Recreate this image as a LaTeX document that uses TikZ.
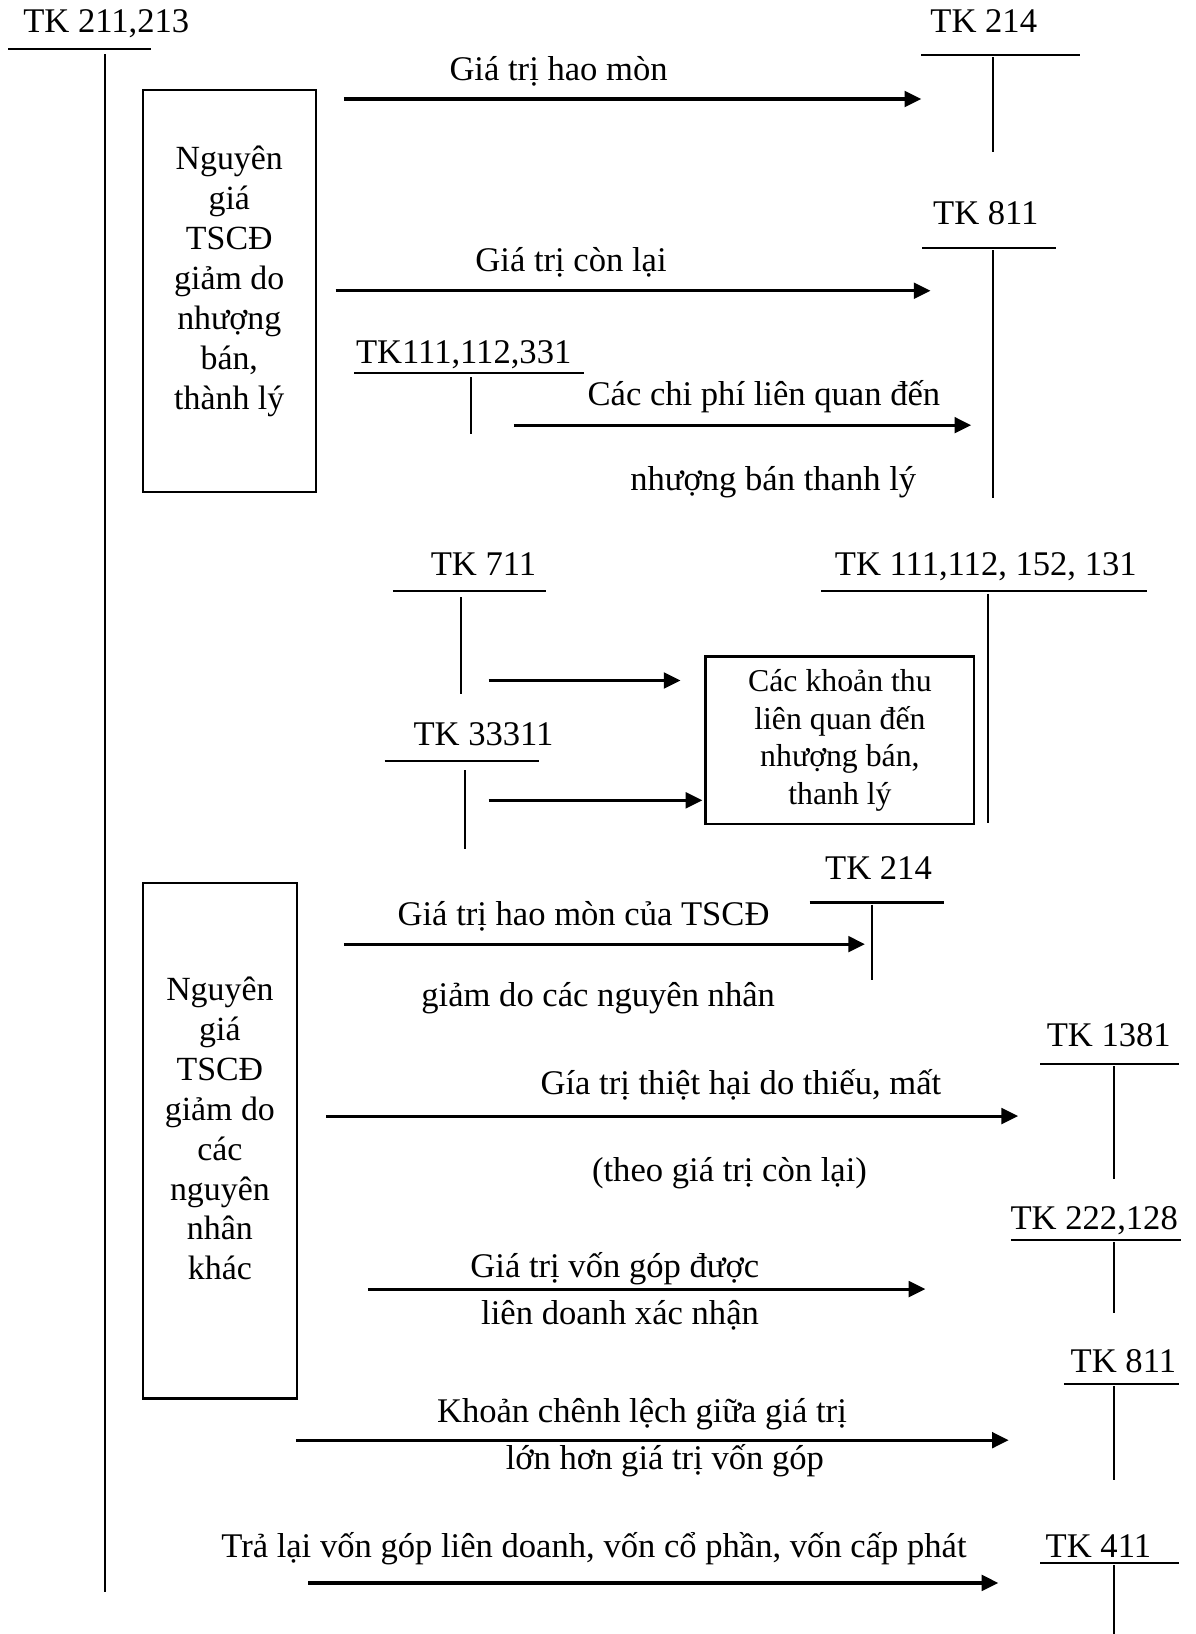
\documentclass[tikz,border=0pt]{standalone}
\usepackage{fontspec}
\setmainfont{Liberation Serif}
\usetikzlibrary{arrows.meta}
\begin{document}
\begin{tikzpicture}[x=1pt,y=-1pt,
  tline/.style={line width=2pt},
  flow/.style={line width=3pt,-{Triangle[length=16pt,width=15pt]}},
  txt/.style={anchor=base,inner sep=0pt,font=\fontsize{33.2}{38}\selectfont},
  boxtxt/.style={inner sep=0pt,align=center,font=\fontsize{32.5}{38.3}\selectfont},
  frame/.style={draw,line width=2pt,rectangle,inner sep=0pt}]
\useasboundingbox (0,0) rectangle (1147,1568);

% ---------- TK 211,213 (main account) ----------
\node[txt] (a211) at (102,31) {TK 211,213};
\draw[tline] (8,47) -- (145,47);
\draw[tline] (101,52) -- (101,1528);

% ---------- disposal by sale / liquidation ----------
\node[frame,minimum width=166pt,minimum height=386pt] (box1) at (220,279) {};
\node[boxtxt] (box1t) at (220,270) {Nguyên\\giá\\TSCĐ\\giảm do\\nhượng\\bán,\\thành lý};

% TK 214
\node[txt] (a214) at (944,31) {TK 214};
\draw[tline] (884,53) -- (1036,53);
\draw[tline] (953,55) -- (953,146);
\coordinate (f1s) at (330,95);
\coordinate (f1e) at (884,95);
\draw[flow] (f1s) -- (f1e);
\node[txt] (l1) at (536,77) {Giá trị hao mòn};

% TK 811
\node[txt] (a811) at (946,215) {TK 811};
\draw[tline] (885,238) -- (1013,238);
\draw[tline] (953,240) -- (953,478);
\coordinate (f2s) at (322,279);
\coordinate (f2e) at (893,279);
\draw[flow] (f2s) -- (f2e);
\node[txt] (l2) at (548,261) {Giá trị còn lại};

% TK 111,112,331
\node[txt] (a111) at (445,349) {TK111,112,331};
\draw[tline] (340,358) -- (560,358);
\draw[tline] (452,362) -- (452,416);
\coordinate (f3s) at (493,408);
\coordinate (f3e) at (932,408);
\draw[flow] (f3s) -- (f3e);
\node[txt] (l3a) at (733,389) {Các chi phí liên quan đến};
\node[txt] (l3b) at (742,471) {nhượng bán thanh lý};

% ---------- receipts from the disposal ----------
\node[txt] (a711) at (464,552) {TK 711};
\draw[tline] (377,567) -- (524,567);
\draw[tline] (442,573) -- (442,666);

\node[txt] (a3331) at (464,715) {TK 33311};
\draw[tline] (369,730) -- (517,730);
\draw[tline] (446,739) -- (446,815);

\node[txt] (a1111) at (946,552) {TK 111,112, 152, 131};
\draw[tline] (788,567) -- (1101,567);
\draw[tline] (948,570) -- (948,790);

\node[frame,minimum width=258pt,minimum height=161pt,align=center,
      font=\fontsize{30.5}{36}\selectfont] (box2) at (806,710.5)
      {Các khoản thu\\liên quan đến\\nhượng bán,\\thanh lý};

\coordinate (f4s) at (469,653);
\coordinate (f4e) at (653,653);
\draw[flow] (f4s) -- (f4e);
\coordinate (f5s) at (469,768);
\coordinate (f5e) at (674,768);
\draw[flow] (f5s) -- (f5e);

% ---------- disposal for other reasons ----------
\node[frame,minimum width=148pt,minimum height=495pt] (box3) at (211,1094.5) {};
\node[boxtxt] (box3t) at (211,1083) {Nguyên\\giá\\TSCĐ\\giảm do\\các\\nguyên\\nhân\\khác};

% TK 214
\node[txt] (b214) at (843,844) {TK 214};
\draw[tline] (777,866) -- (906,866);
\draw[tline] (837,868) -- (837,940);
\coordinate (g1s) at (330,906);
\coordinate (g1e) at (830,906);
\draw[flow] (g1s) -- (g1e);
\node[txt] (m1a) at (560,888) {Giá trị hao mòn của TSCĐ};
\node[txt] (m1b) at (574,966) {giảm do các nguyên nhân};

% TK 1381
\node[txt] (b1381) at (1064,1004) {TK 1381};
\draw[tline] (998,1021) -- (1131,1021);
\draw[tline] (1069,1023) -- (1069,1131);
\coordinate (g2s) at (313,1071);
\coordinate (g2e) at (977,1071);
\draw[flow] (g2s) -- (g2e);
\node[txt] (m2a) at (711,1050) {Gía trị thiệt hại do thiếu, mất};
\node[txt] (m2b) at (700,1134) {(theo giá trị còn lại)};

% TK 222,128
\node[txt] (b222) at (1050,1180) {TK 222,128};
\draw[tline] (970,1190) -- (1133,1190);
\draw[tline] (1069,1192) -- (1069,1260);
\coordinate (g3s) at (353,1237);
\coordinate (g3e) at (888,1237);
\draw[flow] (g3s) -- (g3e);
\node[txt] (m3a) at (590,1226) {Giá trị vốn góp được};
\node[txt] (m3b) at (595,1271) {liên doanh xác nhận};

% TK 811
\node[txt] (b811) at (1078,1317) {TK 811};
\draw[tline] (1021,1328) -- (1131,1328);
\draw[tline] (1069,1330) -- (1069,1420);
\coordinate (g4s) at (284,1382);
\coordinate (g4e) at (968,1382);
\draw[flow] (g4s) -- (g4e);
\node[txt] (m4a) at (616,1365) {Khoản chênh lệch giữa giá trị};
\node[txt] (m4b) at (638,1410) {lớn hơn giá trị vốn góp};

% TK 411
\node[txt] (b411) at (1054,1495) {TK 411};
\draw[tline] (998,1500) -- (1131,1500);
\draw[tline] (1069,1502) -- (1069,1568);
\coordinate (g5s) at (296,1519);
\coordinate (g5e) at (958,1519);
\draw[flow] (g5s) -- (g5e);
\node[txt] (m5) at (570,1495) {Trả lại vốn góp liên doanh, vốn cổ phần, vốn cấp phát};
\end{tikzpicture}
\end{document}
